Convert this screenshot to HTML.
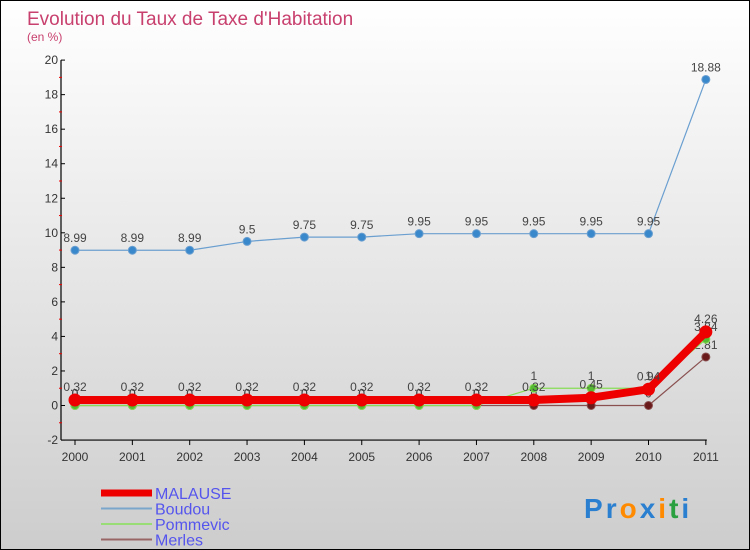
<!DOCTYPE html>
<html><head><meta charset="utf-8"><style>
html,body{margin:0;padding:0;}
body{width:750px;height:550px;overflow:hidden;font-family:"Liberation Sans",sans-serif;}
#wrap{position:relative;width:748px;height:548px;border:1px solid #000;background:linear-gradient(#ffffff,#cdcdcd);}
</style></head><body>
<div id="wrap">
<svg id="chart" width="748" height="548" style="position:absolute;left:0;top:0"></svg>
</div>
<script>
const years=["2000","2001","2002","2003","2004","2005","2006","2007","2008","2009","2010","2011"];
const malause=[0.32,0.32,0.32,0.32,0.32,0.32,0.32,0.32,0.32,0.45,0.94,4.26];
const boudou=[8.99,8.99,8.99,9.5,9.75,9.75,9.95,9.95,9.95,9.95,9.95,18.88];
const pommevic=[0,0,0,0,0,0,0,0,1,1,1,3.84];
const merles=[0,0,0,0,0,0,0,0,0,0,0,2.81];
const yTicks=[-2,0,2,4,6,8,10,12,14,16,18,20];
const NS="http://www.w3.org/2000/svg";
const svg=document.getElementById('chart');
function X(i){return 74+i*57.35;}
function Y(v){return 404.5-v*17.27;}
function el(t,a,txt){const e=document.createElementNS(NS,t);for(const k in a)e.setAttribute(k,a[k]);if(txt!==undefined)e.textContent=txt;svg.appendChild(e);return e;}
let e;
e=el('text',{x:26,y:24,fill:'#c8406e','font-size':19},'Evolution du Taux de Taxe d\'Habitation');

e=el('text',{x:26,y:40,fill:'#c8406e','font-size':12},'(en %)');

e=el('line',{x1:60,y1:Y(20),x2:60,y2:Y(-2),stroke:'#000','stroke-width':1.2});

e=el('line',{x1:60,y1:Y(-2),x2:X(11)+1,y2:Y(-2),stroke:'#000','stroke-width':1.2});

yTicks.forEach((t,i)=>{
  e=el('line',{x1:60,y1:Y(t),x2:64,y2:Y(t),stroke:'#000'});
  
  e=el('text',{x:57,y:Y(t)+4,'text-anchor':'end','font-size':12,fill:'#333'},String(t));
  
  if(i<yTicks.length-1){
    e=el('line',{x1:58,y1:Y(t+1),x2:61,y2:Y(t+1),stroke:'#e00'});
    
  }
});
years.forEach((y,i)=>{
  e=el('line',{x1:X(i),y1:Y(-2),x2:X(i),y2:Y(-2)+5,stroke:'#000'});
  
  e=el('text',{x:X(i),y:Y(-2)+21,'text-anchor':'middle','font-size':12,fill:'#333'},y);
  
});
function series(vals,color,w,r,dot,name,lblDy){
  const pts=vals.map((v,i)=>X(i)+','+Y(v)).join(' ');
  e=el('polyline',{points:pts,fill:'none',stroke:color,'stroke-width':w,'stroke-linejoin':'round'});
  
  vals.forEach((v,i)=>{
    e=el('circle',{cx:X(i),cy:Y(v),r:r,fill:dot,stroke:color,'stroke-width':1});
    
    e=el('text',{x:X(i),y:Y(v)+lblDy,'text-anchor':'middle','font-size':12,fill:'#444'},String(v));
    
  });
}
series(merles,'#8a5050',1.2,4,'#6a1a1a','merles',-8);
series(pommevic,'#88dd55',1.2,4,'#55bb33','pommevic',-8);
series(malause,'#ee0000',8,6,'#ee0000','malause',-9);
series(boudou,'#6a9fd0',1.2,4,'#3a88cc','boudou',-8);
const leg=[['MALAUSE','#ee0000',7],['Boudou','#7aa6cc',2],['Pommevic','#99dd77',2],['Merles','#996666',2]];
leg.forEach((l,i)=>{
  const y=492+i*15.5;
  e=el('line',{x1:100,y1:y,x2:151,y2:y,stroke:l[1],'stroke-width':l[2]});
  
  e=el('text',{x:154,y:y+6,'font-size':16,fill:'#5555ee'},l[0]);
  
});
const logo=[['P','#2a7fd0'],['r','#2a7fd0'],['o','#ff8a00'],['x','#2a7fd0'],['i','#ff8a00'],['t','#2aa040'],['i','#2a7fd0']];
e=el('text',{x:583,y:517,'font-size':28,'font-weight':'bold','letter-spacing':'3'});

logo.forEach(c=>{const s=document.createElementNS(NS,'tspan');s.setAttribute('fill',c[1]);s.textContent=c[0];e.appendChild(s);});
</script>
</body></html>
